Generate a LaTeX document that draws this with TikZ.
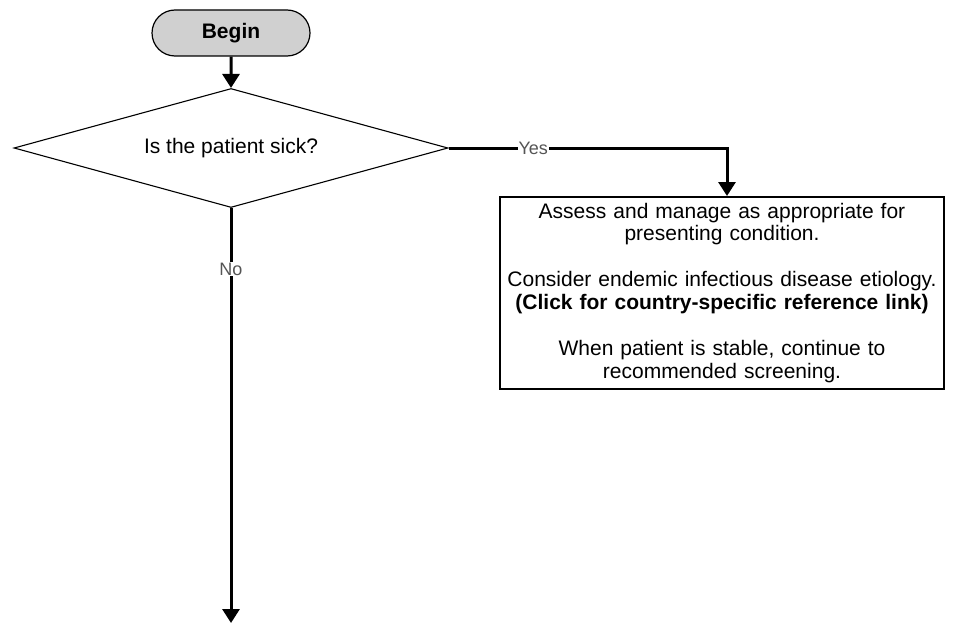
\documentclass[tikz,border=0pt]{standalone}
\usepackage{fontspec}
\setmainfont{Liberation Sans}
\usepackage{xcolor}
\usetikzlibrary{shapes.geometric,shapes.misc,arrows.meta}

\definecolor{beginfill}{RGB}{208,208,208}
\definecolor{labelgray}{RGB}{85,85,85}

\tikzset{
	startbox/.style={draw, rounded rectangle, line width=1.2pt, fill=beginfill,
		minimum width=158pt, minimum height=46pt, inner sep=0pt,
		font=\fontsize{21}{23}\selectfont\bfseries},
	askbox/.style={draw, diamond, line width=1.1pt, aspect=3.6,
		minimum width=434pt, minimum height=119pt, inner sep=0pt,
		font=\fontsize{21}{23}\selectfont},
	actbox/.style={draw, rectangle, line width=1.6pt, align=center,
		minimum width=444pt, minimum height=192pt, text width=436pt, inner sep=4pt,
		font=\fontsize{21}{22.7}\selectfont},
	flow/.style={line width=3pt, -{Triangle[width=17pt,length=14pt]}},
	answer/.style={fill=white, inner sep=1pt, text=labelgray,
		font=\fontsize{18}{19}\selectfont}
}

\begin{document}
\begin{tikzpicture}
	[x=1pt, y=-1pt]
	\useasboundingbox (0,0) rectangle (957,623);
	% start and question
	\node[startbox] (begin) at (231,33) {Begin};
	\node[askbox] (sick) at (231,148) {Is the patient sick?};
	% answer yes
	\node[actbox, anchor=north] (manage) at (722,196) {Assess and manage as appropriate for\\
		presenting condition.\\[23.3pt]
		Consider endemic infectious disease etiology.\\
		\textbf{(Click for country-specific reference link)}\\[23.3pt]
		When patient is stable, continue to\\
		recommended screening.};
	\coordinate (next) at (231,623);

	\draw[flow] (begin) -- (sick);
	\draw[flow] (sick.east) -| node[answer, pos=0.152] {Yes} (manage.north -| 727,0);
	\draw[flow] (sick.south) -- node[answer, pos=0.147] {No} (next);
\end{tikzpicture}
\end{document}
